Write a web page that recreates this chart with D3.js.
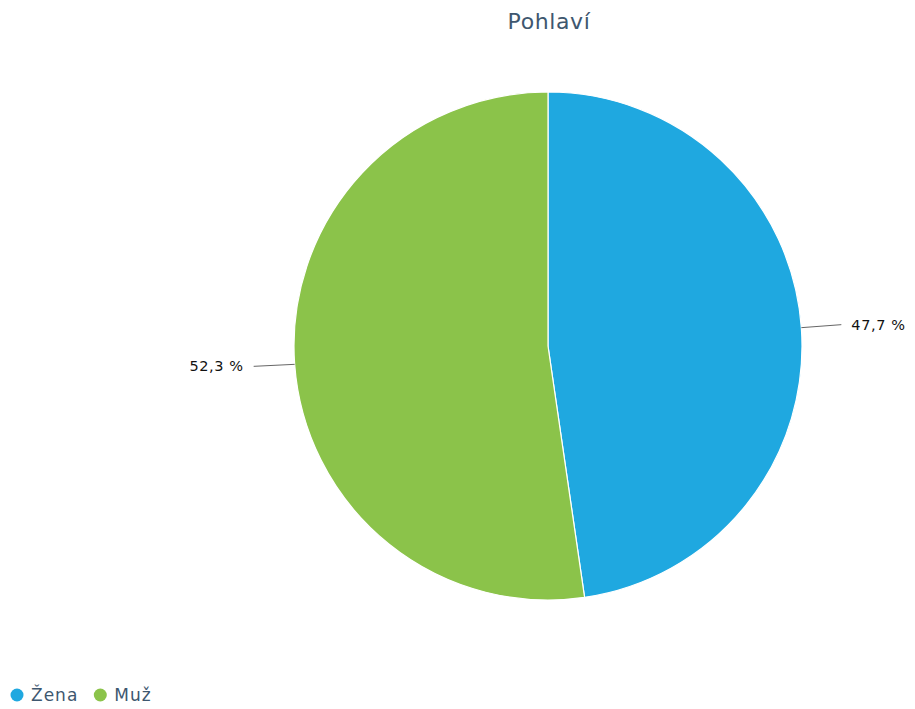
<!DOCTYPE html>
<html>
<head>
<meta charset="utf-8">
<script src="https://cdn.jsdelivr.net/npm/d3@7"></script>
<style>
  html, body { margin: 0; padding: 0; background: #fff; }
  svg { display: block; font-family: "DejaVu Sans", Verdana, sans-serif; }
</style>
</head>
<body>
<svg id="chart" width="915" height="709"></svg>
<script>
// Gender breakdown (percent)
const categories = ["Žena", "Muž"];
const values = [47.7, 52.3];
const colors = ["#1fa8e0", "#8bc34a"];
const title = "Pohlaví";

const width = 915, height = 709;
const cx = 548, cy = 346, radius = 254;

const svg = d3.select("#chart");

svg.append("text")
  .attr("x", 549).attr("y", 29)
  .attr("text-anchor", "middle")
  .attr("fill", "#3e576f")
  .style("font-size", "22px")
  .style("letter-spacing", "0.6px")
  .text(title);

const data = categories.map((c, i) => ({ name: c, value: values[i], color: colors[i] }));

const pie = d3.pie().value(d => d.value).sort(null);
const arcs = pie(data);
const arc = d3.arc().innerRadius(0).outerRadius(radius);

const g = svg.append("g").attr("transform", `translate(${cx},${cy})`);

g.selectAll("path.slice")
  .data(arcs)
  .enter().append("path")
  .attr("class", "slice")
  .attr("d", arc)
  .attr("fill", d => d.data.color)
  .attr("stroke", "#ffffff")
  .attr("stroke-width", 1.2)
  .attr("stroke-linejoin", "round");

// Data labels with short connectors
const fmt = v => v.toFixed(1).replace(".", ",") + " %";
arcs.forEach(a => {
  const mid = (a.startAngle + a.endAngle) / 2;
  const sx = Math.sin(mid), sy = -Math.cos(mid);
  const right = sx >= 0;
  const x0 = radius * sx, y0 = radius * sy;
  const x1 = x0 + (right ? 40 : -41);
  const y1 = y0 + (right ? -3 : 2);
  g.append("path")
    .attr("d", `M${x0},${y0}L${x1},${y1}`)
    .attr("stroke", "#666")
    .attr("stroke-width", 1)
    .attr("fill", "none");
  g.append("text")
    .attr("x", x1 + (right ? 10 : -10))
    .attr("y", y1 + 5)
    .attr("text-anchor", right ? "start" : "end")
    .attr("fill", "#111")
    .style("font-size", "14.5px")
    .style("letter-spacing", "0.6px")
    .text(fmt(a.data.value));
});

// Legend
const legend = svg.append("g").attr("transform", "translate(0,695)");
let lx = 17;
data.forEach(d => {
  legend.append("circle")
    .attr("cx", lx).attr("cy", 0).attr("r", 6.5)
    .attr("fill", d.color);
  const t = legend.append("text")
    .attr("x", lx + 14).attr("y", 6)
    .attr("fill", "#3e576f")
    .style("font-size", "17px")
    .style("letter-spacing", "1px")
    .text(d.name);
  lx += 14 + t.node().getComputedTextLength() + 22;
});
</script>
</body>
</html>
